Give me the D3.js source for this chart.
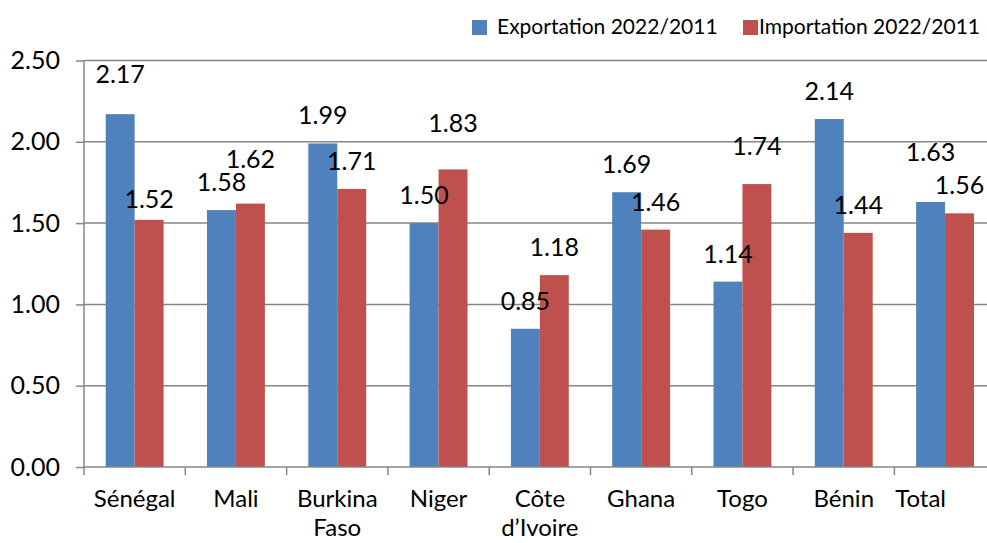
<!DOCTYPE html>
<html>
<head>
<meta charset="utf-8">
<script src="https://cdn.jsdelivr.net/npm/d3@7"></script>
<style>
    body { margin: 0; background: #fff; }
    svg text { font-family: Lato, "Open Sans", sans-serif; fill: #000; }
    .axis path, .axis line { stroke: #868686; stroke-width: 1.5; }
    .grid line { stroke: #868686; stroke-width: 1.5; }
</style>
</head>
<body>
<div class="chart"></div>
<script>
var categories = ["Sénégal", "Mali", "Burkina\nFaso", "Niger", "Côte\nd’Ivoire", "Ghana", "Togo", "Bénin", "Total"];
var exportation = [2.17, 1.58, 1.99, 1.50, 0.85, 1.69, 1.14, 2.14, 1.63];
var importation = [1.52, 1.62, 1.71, 1.83, 1.18, 1.46, 1.74, 1.44, 1.56];
var seriesNames = ["Exportation 2022/2011", "Importation 2022/2011"];
var yTicks = [0, 0.5, 1, 1.5, 2, 2.5];

// labels that were dragged by hand in the original, extra lift in px
var exportLift = [12, 0, 0, 0, 0, 0, 0, 0, 22];
var importLift = [-7, 17, 0, 18, 0, 0, 10, 0, 0];

var colors = ["#4f81bd", "#c0504d"];

var dim = {
    width: 987, height: 543,
    margin: { top: 60.5, left: 84, bottom: 76 },
    step: 101.3,
    font: "25px"
};
dim.plot = {
    width: dim.step * categories.length,
    height: dim.height - dim.margin.top - dim.margin.bottom
};

var svg = d3.select(".chart").append("svg")
    .attr("width", dim.width)
    .attr("height", dim.height);

var x = d3.scaleBand()
    .domain(d3.range(categories.length))
    .range([0, dim.plot.width]);

var x1 = d3.scaleBand()
    .domain([0, 1])
    .range([0, x.bandwidth()])
    .paddingOuter(0.75);

var y = d3.scaleLinear()
    .domain([0, 2.5])
    .range([dim.plot.height, 0]);

var g = svg.append("g")
    .attr("transform", "translate(" + dim.margin.left + "," + dim.margin.top + ")");

// gridlines
g.append("g")
    .attr("class", "grid")
    .selectAll("line")
    .data(yTicks.slice(1))
    .enter().append("line")
    .attr("x1", 0)
    .attr("x2", dim.width - dim.margin.left)
    .attr("y1", function(d) { return y(d); })
    .attr("y2", function(d) { return y(d); });

var rows = categories.map(function(c, i) {
    return { i: i, values: [exportation[i], importation[i]], lift: [exportLift[i], importLift[i]] };
});

var groups = g.selectAll("g.cat")
    .data(rows)
    .enter().append("g")
    .attr("class", "cat")
    .attr("transform", function(d) { return "translate(" + x(d.i) + ",0)"; });

groups.selectAll("rect")
    .data(function(d) { return d.values.map(function(v, s) { return { s: s, v: v }; }); })
    .enter().append("rect")
    .attr("x", function(d) { return x1(d.s); })
    .attr("width", x1.bandwidth())
    .attr("y", function(d) { return y(d.v); })
    .attr("height", function(d) { return y(0) - y(d.v); })
    .attr("fill", function(d) { return colors[d.s]; });

groups.selectAll("text.value")
    .data(function(d) { return d.values.map(function(v, s) { return { s: s, v: v, lift: d.lift[s] }; }); })
    .enter().append("text")
    .attr("class", "value")
    .attr("x", function(d) { return x1(d.s) + x1.bandwidth() / 2; })
    .attr("y", function(d) { return y(d.v) - 19 - d.lift; })
    .attr("text-anchor", "middle")
    .style("font-size", dim.font)
    .text(function(d) { return d3.format(".2f")(d.v); });

// y axis
var yAxis = d3.axisLeft(y)
    .tickValues(yTicks)
    .tickSize(8)
    .tickPadding(16)
    .tickFormat(d3.format(".2f"));

g.append("g")
    .attr("class", "y axis")
    .call(yAxis)
    .call(function(s) { s.select(".domain").attr("d", "M0,0V" + (dim.plot.height + 8)); })
    .selectAll("text")
    .style("font-size", dim.font);

// x axis baseline and category separators
var xg = g.append("g")
    .attr("class", "x axis")
    .attr("transform", "translate(0," + dim.plot.height + ")");

xg.append("line")
    .attr("x1", 0)
    .attr("x2", dim.width - dim.margin.left);

xg.selectAll("line.sep")
    .data(d3.range(1, categories.length))
    .enter().append("line")
    .attr("class", "sep")
    .attr("x1", function(d) { return x(d); })
    .attr("x2", function(d) { return x(d); })
    .attr("y1", 0)
    .attr("y2", 8);

var maxRight = 946 - dim.margin.left;

xg.selectAll("text.cat")
    .data(categories)
    .enter().append("text")
    .attr("class", "cat")
    .attr("text-anchor", "middle")
    .style("font-size", "24px")
    .attr("transform", function(d, i) { return "translate(" + (x(i) + x.bandwidth() / 2) + ",40)"; })
    .each(function(d) {
        var t = d3.select(this);
        d.split("\n").forEach(function(line, k) {
            t.append("tspan").attr("x", 0).attr("dy", k === 0 ? 0 : 29).text(line);
        });
    })
    .each(function(d, i) {
        // keep the last label inside the chart area, as the spreadsheet did
        var b = this.getBBox();
        var cx = x(i) + x.bandwidth() / 2;
        if (cx + b.x + b.width > maxRight) {
            d3.select(this).attr("transform", "translate(" + (maxRight - b.width / 2) + ",40)");
        }
    });

// legend
var legend = svg.append("g").attr("class", "legend");
var legendX = [472, 743];

seriesNames.forEach(function(name, s) {
    legend.append("rect")
        .attr("x", legendX[s])
        .attr("y", 20)
        .attr("width", 15)
        .attr("height", 15)
        .attr("fill", colors[s]);
    legend.append("text")
        .attr("x", legendX[s] + (s === 0 ? 25 : 16))
        .attr("y", 34)
        .style("font-size", "21px")
        .text(name);
});
</script>
</body>
</html>
